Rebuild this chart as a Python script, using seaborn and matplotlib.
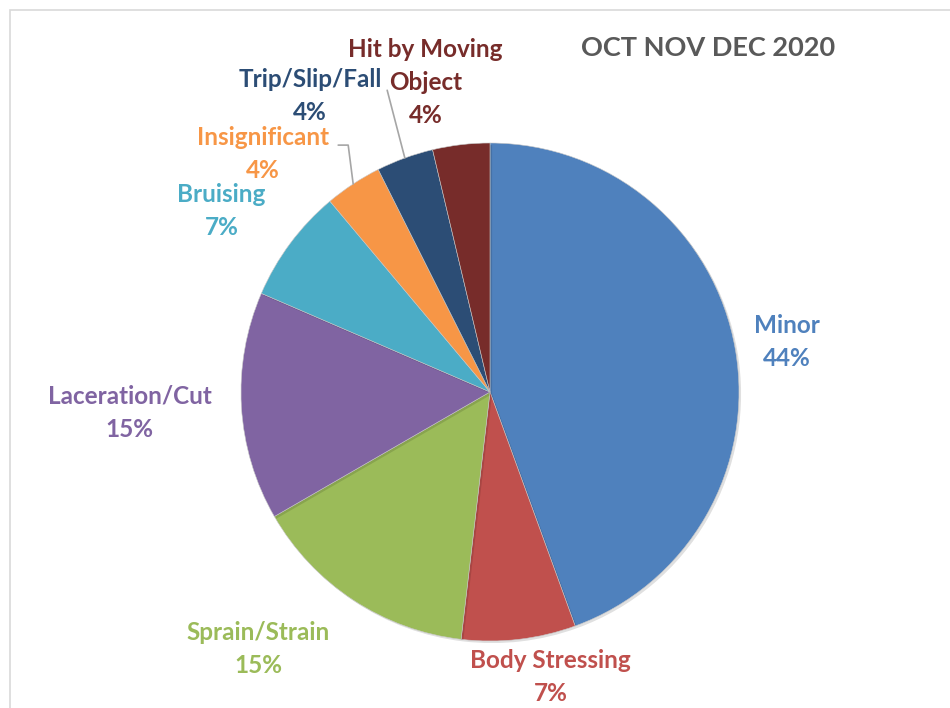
import numpy as np
import matplotlib
matplotlib.use("Agg")
import matplotlib.pyplot as plt
import matplotlib.patheffects as pe
from matplotlib.patches import Rectangle
import seaborn as sns

# incident counts for the quarter (shown as rounded percentages)
categories = ["Minor", "Body Stressing", "Sprain/Strain", "Laceration/Cut",
              "Bruising", "Insignificant", "Trip/Slip/Fall", "Hit by Moving\nObject"]
counts = [12, 2, 4, 4, 2, 1, 1, 1]
colors = ["#4F81BD", "#C0504D", "#9BBB59", "#8064A2",
          "#4BACC6", "#F79646", "#2C4D75", "#772C2A"]
title = "OCT NOV DEC 2020"

# label placement: (distance from centre in radii, angle nudge in degrees)
label_place = [(1.21, -0.5), (1.17, 5.3), (1.39, -8.7), (1.45, 0.0),
               (1.30, 2.7), (1.32, 10.3), (1.39, 11.3), (1.27, 5.1)]
# which labels get a leader line
leader = [False, False, False, False, False, True, True, False]

sns.set_theme(style="white")
plt.rcParams['font.family'] = ['Lato', 'DejaVu Sans']

W, H = 950, 708
cx, cy, R = 490, 392, 249
LINE = 33  # px between label lines
fig = plt.figure(figsize=(W / 100, H / 100), dpi=100)
ax = fig.add_axes([0, 0, 1, 1])

wedges, _ = ax.pie(counts, colors=colors, startangle=90, counterclock=False,
                   radius=1, center=(0, 0),
                   wedgeprops=dict(linewidth=0.4, edgecolor="#C8C8C8"))
for w in wedges:
    w.set_path_effects([pe.SimplePatchShadow(offset=(1.5, -1.5), shadow_rgbFace="black", alpha=0.12),
                        pe.Normal()])

ax.set_xlim(-cx / R, (W - cx) / R)
ax.set_ylim(-(H - cy) / R, cy / R)
ax.set_aspect("equal")
ax.axis("off")

total = sum(counts)
for w, cat, n, col, (dist, nudge), lead in zip(wedges, categories, counts, colors, label_place, leader):
    mid = np.deg2rad((w.theta1 + w.theta2) / 2)
    a = mid + np.deg2rad(nudge)
    x, y = dist * np.cos(a), dist * np.sin(a)
    pct = f"{100 * n / total:.0f}%"
    lines = cat.split("\n") + [pct]
    for i, s in enumerate(lines):
        dy = ((len(lines) - 1) / 2 - i) * LINE / R
        ax.text(x, y + dy, s, ha="center", va="center", color=col,
                fontsize=17.5, fontweight="bold")
    if lead:
        rx, ry = np.cos(mid), np.sin(mid)
        if cat == "Insignificant":
            ax.plot([x + 75 / R, x + 85 / R, rx], [y + 9 / R, y + 9 / R, ry],
                    color="#A6A6A6", lw=1.2)
        else:
            ax.plot([x + 77 / R, rx], [y + 6 / R, ry], color="#A6A6A6", lw=1.2)

ax.text(0.745, 0.932, title, transform=ax.transAxes, ha="center", va="center",
        fontsize=19.5, fontweight="bold", color="#595959")

fig.patches.append(Rectangle((10 / W, -0.05), 1.0, 1 - 10 / H + 0.05,
                             transform=fig.transFigure, fill=False,
                             edgecolor="#D9D9D9", linewidth=1.2))

fig.savefig("out.png", dpi=100)
